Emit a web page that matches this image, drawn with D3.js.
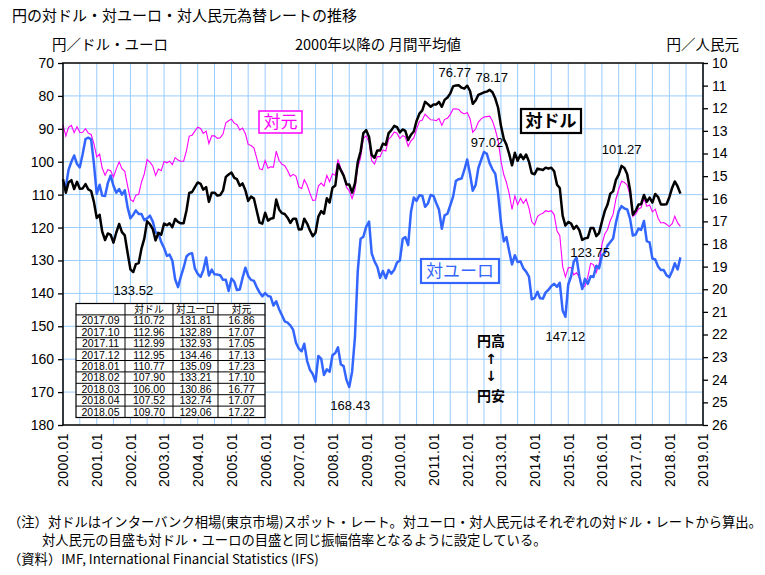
<!DOCTYPE html>
<html><head><meta charset="utf-8">
<script src="https://cdn.jsdelivr.net/npm/d3@7/dist/d3.min.js"></script>
<style>
body{margin:0;background:#fff}
text{font-family:"Noto Sans CJK JP","Noto Sans",sans-serif;fill:#000}
</style>
</head><body>
<svg id="chart" width="765" height="575"></svg>
<script>
// ---------------- DATA ----------------
const startYear = 2000; // monthly data from 2000.01 to 2018.05
const usdJpy = [
105.3,109.4,106.3,105.6,108.3,106.1,108.2,108.1,106.8,108.4,108.9,112.2,
117.1,116.1,121.2,123.8,121.8,122.2,124.6,121.5,118.9,121.4,122.4,127.6,
132.7,133.52,131.1,130.8,126.4,123.3,118.1,119.0,120.5,123.9,121.6,122.2,
118.8,119.3,118.7,119.9,117.4,118.3,118.7,118.7,114.8,109.5,109.2,107.7,
106.3,106.7,108.5,107.7,112.2,109.4,109.4,110.3,110.1,108.8,104.6,103.9,
103.3,104.9,105.3,107.3,106.6,108.7,111.9,110.6,111.2,114.8,118.5,118.8,
115.5,117.9,117.3,117.1,111.5,114.5,115.6,115.9,117.0,118.6,117.3,117.3,
120.6,120.5,117.3,118.8,120.8,122.6,121.6,116.7,115.0,115.8,111.1,112.4,
107.9,107.2,100.8,102.6,104.2,106.9,106.9,109.4,106.6,100.1,96.9,91.3,
90.4,92.5,97.9,98.8,96.6,96.6,94.5,94.9,91.3,90.4,89.1,89.5,
91.1,90.2,90.6,93.4,91.8,90.8,87.6,85.4,84.4,81.8,82.5,83.3,
82.6,82.6,81.8,83.3,81.2,80.5,79.3,77.1,76.8,76.77,77.5,77.8,
76.9,78.5,82.4,81.4,79.7,79.3,78.9,78.7,78.17,78.9,80.8,83.6,
89.1,93.1,94.8,97.7,101.1,97.3,99.7,97.8,99.2,97.8,100.0,103.5,
103.8,102.1,102.3,102.5,101.8,102.1,101.8,102.9,107.0,108.0,116.4,119.4,
118.3,118.8,120.4,119.5,120.8,123.75,123.3,123.1,120.1,120.1,122.6,121.7,
118.2,115.0,113.1,109.7,109.0,105.5,103.9,101.27,101.9,103.8,108.6,116.1,
114.9,113.0,112.9,110.1,112.2,110.9,112.4,109.8,110.72,112.96,112.99,112.95,
110.77,107.90,106.00,107.52,109.70
];
const eurJpy = [
106.8,107.6,102.5,100.0,98.1,100.7,101.7,97.7,93.1,92.7,93.2,100.6,
109.8,107.0,110.3,110.4,106.5,104.2,107.3,109.4,108.3,110.0,108.7,113.8,
117.2,116.1,114.8,115.9,115.9,117.8,117.2,116.4,118.2,121.5,121.7,124.4,
126.2,128.6,128.2,130.1,135.7,138.1,135.0,132.2,128.8,128.0,127.8,132.4,
134.1,135.0,133.0,129.1,134.6,132.8,134.2,134.3,134.5,135.9,135.9,139.3,
135.5,136.5,139.0,138.8,135.3,132.2,134.7,135.9,136.2,138.1,139.7,140.9,
139.9,140.8,141.0,143.7,142.4,144.8,146.6,148.5,148.9,149.7,151.1,155.0,
156.8,157.6,155.3,160.5,163.2,164.5,166.8,159.0,159.9,164.8,163.1,163.8,
158.8,158.1,156.4,161.6,162.1,166.3,168.43,163.8,153.2,133.3,123.4,122.8,
119.7,118.2,127.8,130.3,131.9,135.3,133.2,135.4,132.9,134.0,132.8,130.6,
130.0,123.4,122.9,125.3,115.3,110.9,111.9,110.2,110.3,113.7,112.7,110.1,
110.4,112.7,114.5,120.4,116.3,115.8,113.3,110.6,105.8,105.3,105.1,102.5,
99.3,103.8,108.8,107.1,101.9,99.4,97.02,97.6,100.5,102.3,103.7,109.7,
118.5,124.2,122.9,127.3,131.2,128.4,130.5,130.3,132.4,133.4,134.9,141.8,
141.4,139.5,141.5,141.6,139.7,138.9,137.8,137.1,138.0,136.8,145.2,147.12,
137.3,134.8,130.4,129.1,134.8,138.7,135.6,137.1,134.8,135.0,131.6,132.4,
128.5,127.7,125.5,124.4,123.3,118.5,115.0,113.5,114.2,114.5,117.3,122.4,
122.1,120.3,120.7,118.0,124.1,124.5,129.4,129.7,131.81,132.89,132.93,134.46,
135.09,133.21,130.86,132.74,129.06
];
const cnyJpy = [
12.72,13.22,12.84,12.76,13.08,12.82,13.07,13.06,12.90,13.10,13.16,13.56,
14.15,14.03,14.64,14.96,14.72,14.76,15.05,14.68,14.37,14.67,14.79,15.42,
16.03,16.13,15.84,15.80,15.27,14.90,14.27,14.38,14.56,14.97,14.69,14.76,
14.35,14.41,14.34,14.49,14.18,14.29,14.34,14.34,13.87,13.23,13.19,13.01,
12.84,12.89,13.11,13.01,13.56,13.22,13.22,13.33,13.30,13.14,12.64,12.55,
12.48,12.67,12.72,12.96,12.88,13.13,13.60,13.65,13.75,14.19,14.67,14.72,
14.31,14.65,14.59,14.60,13.90,14.31,14.47,14.54,14.75,15.01,14.92,15.00,
15.48,15.55,15.16,15.39,15.75,16.07,16.06,15.44,15.31,15.44,14.97,15.25,
14.90,14.97,14.26,14.66,14.91,15.49,15.65,15.99,15.61,14.63,14.19,13.33,
13.22,13.52,14.31,14.47,14.14,14.14,13.84,13.89,13.37,13.24,13.05,13.10,
13.34,13.21,13.27,13.68,13.44,13.31,12.92,12.58,12.52,12.26,12.39,12.51,
12.52,12.55,12.45,12.76,12.49,12.44,12.28,12.03,12.02,12.05,12.19,12.25,
12.19,12.46,13.06,12.92,12.61,12.47,12.39,12.37,12.35,12.56,12.95,13.42,
14.32,14.94,15.27,15.78,16.47,15.87,16.26,15.98,16.21,16.01,16.42,17.02,
17.16,16.79,16.69,16.64,16.53,16.57,16.53,16.70,17.43,17.62,18.99,19.45,
19.05,19.04,19.36,19.27,19.48,19.96,19.86,19.45,18.85,18.91,19.25,18.90,
18.02,17.56,17.37,16.96,16.69,16.01,15.58,15.23,15.28,15.40,15.85,16.78,
16.68,16.45,16.39,15.98,16.33,16.28,16.58,16.46,16.86,17.07,17.05,17.13,
17.23,17.10,16.77,17.07,17.22
];
const leftTicks = [70,80,90,100,110,120,130,140,150,160,170,180];
const rightTicks = [10,11,12,13,14,15,16,17,18,19,20,21,22,23,24,25,26];
const xTickLabels = ["2000.01","2001.01","2002.01","2003.01","2004.01","2005.01","2006.01","2007.01","2008.01","2009.01","2010.01","2011.01","2012.01","2013.01","2014.01","2015.01","2016.01","2017.01","2018.01","2019.01"];
// table
const tableHeader = ["", "対ドル", "対ユーロ", "対元"];
const tableMonths = ["2017.09","2017.10","2017.11","2017.12","2018.01","2018.02","2018.03","2018.04","2018.05"];
const tableUsd = ["110.72","112.96","112.99","112.95","110.77","107.90","106.00","107.52","109.70"];
const tableEur = ["131.81","132.89","132.93","134.46","135.09","133.21","130.86","132.74","129.06"];
const tableCny = ["16.86","17.07","17.05","17.13","17.23","17.10","16.77","17.07","17.22"];
// value annotations: [series, monthIndex, label]
const valueNotes = [
  ["usd",141,"76.77"],["usd",152,"78.17"],["eur",150,"97.02"],["usd",199,"101.27"],
  ["usd",185,"123.75"],["eur",179,"147.12"],["usd",25,"133.52"],["eur",102,"168.43"]
];

// ---------------- CHART ----------------
const svg = d3.select("#chart");
const L=63,R=703,T=63,B=425;
const NUMFONT = "'Liberation Sans',Arial,sans-serif";
const dateOf = i => new Date(startYear, i, 1);
const x = d3.scaleTime().domain([new Date(2000,0,1), new Date(2019,0,1)]).range([L,R]);
const yL = d3.scaleLinear().domain([70,180]).range([T,B]);
const yR = d3.scaleLinear().domain([10,26]).range([T,B]);
const gridColor = "#99ccff";

// grid
const gridDates = d3.timeMonth.every(6).range(new Date(2000,0,1), new Date(2019,0,2));
svg.append("g").selectAll("line").data(gridDates).join("line")
  .attr("x1",d=>x(d)).attr("x2",d=>x(d)).attr("y1",T).attr("y2",B)
  .attr("stroke",gridColor).attr("stroke-width",1);
svg.append("g").selectAll("line").data(leftTicks.slice(1,-1)).join("line")
  .attr("x1",L).attr("x2",R).attr("y1",d=>yL(d)).attr("y2",d=>yL(d))
  .attr("stroke",gridColor).attr("stroke-width",1);

// axes
const axL = svg.append("g").attr("transform",`translate(${L},0)`)
  .call(d3.axisLeft(yL).tickValues(leftTicks).tickSize(5).tickPadding(4).tickFormat(d3.format("d")));
const axR = svg.append("g").attr("transform",`translate(${R},0)`)
  .call(d3.axisRight(yR).tickValues(rightTicks).tickSize(5).tickPadding(4).tickFormat(d3.format("d")));
[axL,axR].forEach(a=>{a.select(".domain").remove();a.selectAll("line").attr("stroke","#000").attr("stroke-width",1.3);
  a.selectAll("text").style("font-size","14px").style("font-family",NUMFONT);});

const axB = svg.append("g").attr("transform",`translate(0,${B})`)
  .call(d3.axisBottom(x).tickValues(xTickLabels.map((s,i)=>new Date(startYear+i,0,1))).tickSize(0)
    .tickFormat((d,i)=>xTickLabels[i]));
axB.select(".domain").remove();
axB.selectAll("text").attr("transform","rotate(-90)").attr("text-anchor","end")
  .attr("x",-8).attr("y",0).attr("dy","0.35em")
  .style("font-size","14px").style("letter-spacing","0.5px").style("font-family",NUMFONT);

// lines
const idx = d3.range(usdJpy.length);
const lineL = arr => d3.line().x(i=>x(dateOf(i))).y(i=>yL(arr[i]))(idx);
const lineR = arr => d3.line().x(i=>x(dateOf(i))).y(i=>yR(arr[i]))(idx);
svg.append("path").attr("d",lineR(cnyJpy)).attr("fill","none").attr("stroke","#ff00ff").attr("stroke-width",1.1);
svg.append("path").attr("d",lineL(eurJpy)).attr("fill","none").attr("stroke","#3366ff").attr("stroke-width",2.5).attr("stroke-linejoin","round");
svg.append("path").attr("d",lineL(usdJpy)).attr("fill","none").attr("stroke","#000").attr("stroke-width",2.5).attr("stroke-linejoin","round");

// frame
svg.append("rect").attr("x",L).attr("y",T).attr("width",R-L).attr("height",B-T)
  .attr("fill","none").attr("stroke","#000").attr("stroke-width",1.5);

// value annotations
const noteOff = {"76.77":[-4,-8],"78.17":[2,-8],"97.02":[3,-5],"101.27":[0,-12],
  "123.75":[8,17],"147.12":[0,24],"133.52":[0,23],"168.43":[1,23]};
valueNotes.forEach(([s,i,lab])=>{
  const v = s==="usd"?usdJpy[i]:eurJpy[i];
  const o = noteOff[lab];
  svg.append("text").attr("x",x(dateOf(i))+o[0]).attr("y",yL(v)+o[1])
    .attr("text-anchor","middle").style("font-size","13px")
    .style("font-family",NUMFONT).text(lab);
});

// series label boxes
function labelBox(x0,y0,w,h,txt,color,sw,bold){
  svg.append("rect").attr("x",x0).attr("y",y0).attr("width",w).attr("height",h)
    .attr("fill","#fff").attr("stroke",color).attr("stroke-width",sw);
  svg.append("text").attr("x",x0+w/2).attr("y",y0+h/2).attr("dy","0.36em")
    .attr("text-anchor","middle").style("font-size","17px").style("fill",color)
    .style("font-weight",bold?"bold":"normal").text(txt);
}
labelBox(259,111,43,22,"対元","#ff00ff",1.5,false);
labelBox(521,109,60,24,"対ドル","#000",2.2,true);
labelBox(421,259,78,24,"対ユーロ","#3366ff",2.2,false);

// 円高 ↑ ↓ 円安
const hyG = svg.append("g").attr("text-anchor","middle").style("font-weight","bold");
hyG.append("text").attr("x",491).attr("y",345.5).style("font-size","14px").text("円高");
hyG.append("text").attr("x",491).attr("y",363.5).style("font-size","14px").style("font-family","'DejaVu Sans',sans-serif").text("↑");
hyG.append("text").attr("x",491).attr("y",380.5).style("font-size","14px").style("font-family","'DejaVu Sans',sans-serif").text("↓");
hyG.append("text").attr("x",491).attr("y",401).style("font-size","14px").text("円安");

// table (grid + one text block per column)
const tx = [76,125,173,218,265], ty0 = 303.5, rh = 11.4;
const cols = [
  [tableHeader[0]].concat(tableMonths),
  [tableHeader[1]].concat(tableUsd),
  [tableHeader[2]].concat(tableEur),
  [tableHeader[3]].concat(tableCny)
];
const nRows = cols[0].length;
const tg = svg.append("g");
tg.append("rect").attr("x",tx[0]).attr("y",ty0).attr("width",tx[4]-tx[0]).attr("height",rh*nRows)
  .attr("fill","#fff").attr("stroke","#000").attr("stroke-width",1.2);
for(let r=1;r<nRows;r++) tg.append("line").attr("x1",tx[0]).attr("x2",tx[4])
  .attr("y1",ty0+r*rh).attr("y2",ty0+r*rh).attr("stroke","#000").attr("stroke-width",1);
for(let c=1;c<4;c++) tg.append("line").attr("x1",tx[c]).attr("x2",tx[c])
  .attr("y1",ty0).attr("y2",ty0+rh*nRows).attr("stroke","#000").attr("stroke-width",1);
cols.forEach((col,c)=>{
  col.forEach((cell,r)=>{
    if(cell==="") return;
    const head = r===0;
    tg.append("text").attr("x",(tx[c]+tx[c+1])/2)
      .attr("y",head ? ty0+9.2 : ty0+r*rh+rh/2+3.8)
      .attr("text-anchor","middle").style("font-size", head?"9.8px":"10.5px")
      .style("font-family", head?"'Noto Sans CJK JP',sans-serif":NUMFONT).text(cell);
  });
});

// titles
svg.append("text").attr("x",12).attr("y",21).style("font-size","15px").text("円の対ドル・対ユーロ・対人民元為替レートの推移");
svg.append("text").attr("x",52).attr("y",50).style("font-size","14.5px").text("円／ドル・ユーロ");
svg.append("text").attr("x",295).attr("y",50).style("font-size","14.5px").text("2000年以降の 月間平均値");
svg.append("text").attr("x",739).attr("y",50).attr("text-anchor","end").style("font-size","14.5px").text("円／人民元");

// footnotes
svg.append("text").attr("x",8).attr("y",527).style("font-size","13.3px")
  .text("（注）対ドルはインターバンク相場(東京市場)スポット・レート。対ユーロ・対人民元はそれぞれの対ドル・レートから算出。");
svg.append("text").attr("x",42).attr("y",545).style("font-size","13.3px")
  .text("対人民元の目盛も対ドル・ユーロの目盛と同じ振幅倍率となるように設定している。");
svg.append("text").attr("x",8).attr("y",564).style("font-size","13.3px")
  .text("（資料）IMF, International Financial Statistics (IFS)");
</script>
</body></html>
